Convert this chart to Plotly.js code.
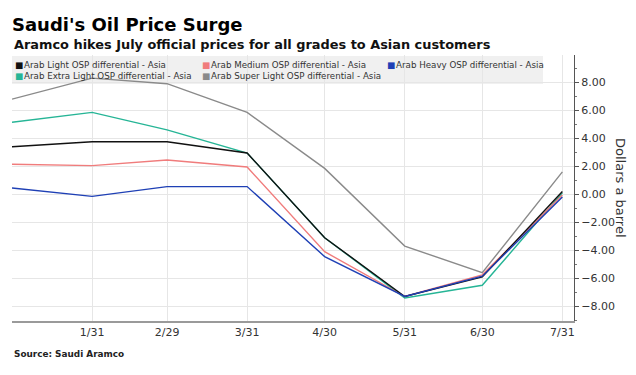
<!DOCTYPE html>
<html>
<head>
<meta charset="utf-8">
<script src="https://cdn.plot.ly/plotly-3.0.1.min.js"></script>
<style>html,body{margin:0;padding:0;background:#fff;}#chart{width:636px;height:375px;}</style>
</head>
<body>
<div id="chart"></div>
<script>
// ---- data ----
const dates = ["2019-12-31","2020-01-31","2020-02-29","2020-03-31","2020-04-30","2020-05-31","2020-06-30","2020-07-31"];
const arabLight      = [3.40, 3.75, 3.75, 2.95, -3.10, -7.30, -5.90, 0.20];
const arabMedium     = [2.15, 2.05, 2.45, 1.95, -4.10, -7.30, -5.75, -0.05];
const arabHeavy      = [0.45, -0.15, 0.55, 0.55, -4.45, -7.30, -5.85, -0.20];
const arabExtraLight = [5.15, 5.85, 4.60, 2.95, -3.10, -7.40, -6.50, 0.10];
const arabSuperLight = [6.80, 8.30, 7.90, 5.85, 1.85, -3.70, -5.60, 1.60];
const seriesNames = ["Arab Light OSP differential - Asia","Arab Medium OSP differential - Asia","Arab Heavy OSP differential - Asia","Arab Extra Light OSP differential - Asia","Arab Super Light OSP differential - Asia"];
const tickDates  = ["2020-01-31","2020-02-29","2020-03-31","2020-04-30","2020-05-31","2020-06-30","2020-07-31"];
const tickLabels = ["1/31","2/29","3/31","4/30","5/31","6/30","7/31"];
const yTickVals  = [-8,-6,-4,-2,0,2,4,6,8];

// ---- styling ----
const colors = {light:"#111111", medium:"#f07c7c", heavy:"#1f40b5", extra:"#26b596", superl:"#8a8a8a"};
const W = 636, H = 375, L = 12, R = 62, T = 55, B = 54;
const pw = W - L - R, ph = H - T - B;
const px = v => (v - L) / pw;
const py = v => (H - B - v) / ph;
const FONT = "DejaVu Sans, Verdana, sans-serif";

function line(name, y, color) {
  return {type:"scatter", mode:"lines", name:name, x:dates, y:y,
          line:{color:color, width:1.4}, showlegend:false, hoverinfo:"x+y+name"};
}
const traces = [
  line(seriesNames[4], arabSuperLight, colors.superl),
  line(seriesNames[3], arabExtraLight, colors.extra),
  line(seriesNames[1], arabMedium, colors.medium),
  line(seriesNames[0], arabLight, colors.light),
  line(seriesNames[2], arabHeavy, colors.heavy)
];

// legend drawn as annotations (matches reference layout)
const legendItems = [
  {name:seriesNames[0], color:colors.light,  x:13,  y:65},
  {name:seriesNames[1], color:colors.medium, x:200, y:65},
  {name:seriesNames[2], color:colors.heavy,  x:385, y:65},
  {name:seriesNames[3], color:colors.extra,  x:13,  y:76},
  {name:seriesNames[4], color:colors.superl, x:200, y:76}
];
const annotations = legendItems.map(it => ({
  xref:"paper", yref:"paper", x:px(it.x), y:py(it.y), xanchor:"left", yanchor:"middle",
  showarrow:false, align:"left",
  text:'<span style="color:'+it.color+'">■</span>\u200A'+it.name,
  font:{family:FONT, size:8.7, color:"#333"}
}));
annotations.push({
  xref:"paper", yref:"paper", x:px(12), y:py(44), xanchor:"left", yanchor:"middle", showarrow:false,
  text:"<b>Aramco hikes July official prices for all grades to Asian customers</b>",
  font:{family:FONT, size:12.9, color:"#111"}
});
annotations.push({
  xref:"paper", yref:"paper", x:px(12), y:py(354), xanchor:"left", yanchor:"middle", showarrow:false,
  text:"<b>Source: Saudi Aramco</b>",
  font:{family:FONT, size:8.9, color:"#222"}
});
annotations.push({
  xref:"paper", yref:"paper", x:px(621), y:py(188), xanchor:"center", yanchor:"middle", showarrow:false,
  textangle:90, text:"Dollars a barrel",
  font:{family:FONT, size:13, color:"#333"}
});

const layout = {
  width:W, height:H,
  margin:{l:L, r:R, t:T, b:B, pad:0},
  paper_bgcolor:"#fff", plot_bgcolor:"#fff",
  title:{text:"<b>Saudi's Oil Price Surge</b>", xref:"container", yref:"container",
         x:12/W, xanchor:"left", y:1-25/H, yanchor:"middle",
         font:{family:FONT, size:18, color:"#000"}},
  showlegend:false,
  xaxis:{type:"date", range:["2019-12-31","2020-08-04 12:00"],
         tickvals:tickDates, ticktext:tickLabels,
         showgrid:true, gridcolor:"#e6e6e6", gridwidth:1,
         showline:true, linecolor:"#9a9a9a", linewidth:2,
         ticks:"", tickfont:{family:FONT, size:11, color:"#333"},
         zeroline:false, fixedrange:true},
  yaxis:{side:"right", range:[-9.05, 9.95],
         tickvals:yTickVals, tickformat:".2f",
         showgrid:true, gridcolor:"#e6e6e6", gridwidth:1,
         showline:true, linecolor:"#555", linewidth:1,
         ticks:"outside", ticklen:4, tickcolor:"#555",
         minor:{dtick:1, ticks:"outside", ticklen:2, tickcolor:"#777", showgrid:false},
         tickfont:{family:FONT, size:11, color:"#333"},
         zeroline:false, fixedrange:true},
  shapes:[{type:"rect", xref:"paper", yref:"paper", layer:"below",
           x0:px(12), x1:px(543), y0:py(56), y1:py(84),
           fillcolor:"#f0f0f0", line:{width:0}}],
  annotations:annotations
};

Plotly.newPlot("chart", traces, layout, {displayModeBar:false, staticPlot:true});
</script>
</body>
</html>
